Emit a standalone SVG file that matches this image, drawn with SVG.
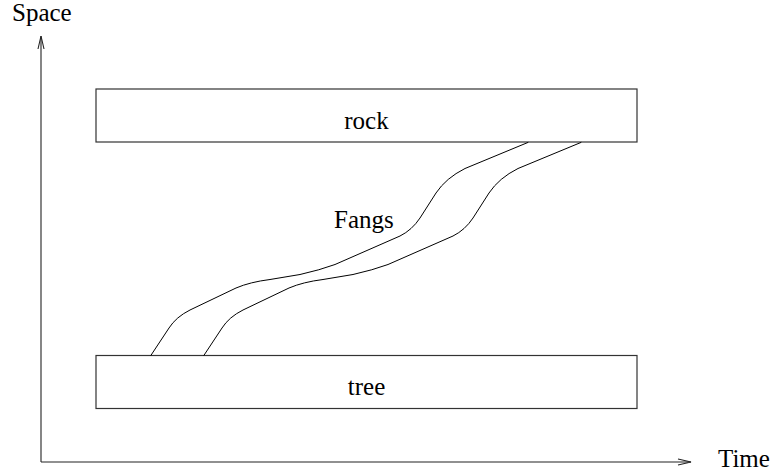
<svg xmlns="http://www.w3.org/2000/svg" xmlns:xlink="http://www.w3.org/1999/xlink" width="776" height="473" viewBox="0 0 776 473">
<style>
text{font-family:"Liberation Serif","DejaVu Serif","Times New Roman",serif;font-size:25px;fill:#000}
.box{fill:#fff;stroke:#333;stroke-width:1.2}
.ax{fill:none;stroke:#222;stroke-width:1.1}
.fang{fill:none;stroke:#000;stroke-width:1}
</style>
<defs>
<path id="fangpath" class="fang" d="M150.7,355.7 L169,328 Q176,317 190,310 L236,288 Q250,282 270,279.5 L300,274.5 Q320,270 335,264.5 L400,236 Q412,230 420,218 L436,193 Q446,178 465,168.5 L528.3,142.3"/>
</defs>
<g id="axes">
<line class="ax" x1="41" y1="462" x2="41" y2="36"/>
<polyline class="ax" points="38,49 41,36 44,49"/>
<line class="ax" x1="41" y1="462" x2="691" y2="462"/>
<polyline class="ax" points="678,459 691,462 678,465"/>
<text x="12" y="21" font-family="Liberation Serif, serif">Space</text>
<text x="718" y="467" font-family="Liberation Serif, serif">Time</text>
</g>
<g id="rock">
<rect class="box" x="96" y="89" width="541" height="53"/>
<text x="366.5" y="129" text-anchor="middle" font-family="Liberation Serif, serif">rock</text>
</g>
<g id="tree">
<rect class="box" x="96" y="355.5" width="541" height="53"/>
<text x="366.5" y="395" text-anchor="middle" font-family="Liberation Serif, serif">tree</text>
</g>
<g id="connectors">
<use xlink:href="#fangpath"/>
<use xlink:href="#fangpath" transform="translate(53,0)"/>
</g>
<g id="fangs-label">
<text x="334" y="228" font-family="Liberation Serif, serif">Fangs</text>
</g>
</svg>
